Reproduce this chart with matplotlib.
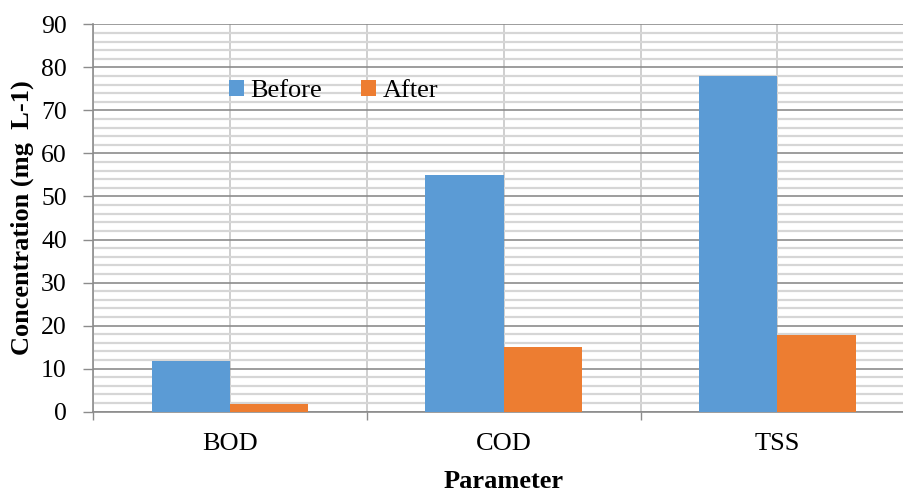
import numpy as np
import matplotlib
matplotlib.use("Agg")
import matplotlib.pyplot as plt
from matplotlib.ticker import MultipleLocator, FixedLocator

plt.rcParams['font.family'] = ['Liberation Serif', 'DejaVu Serif']

params = ['BOD', 'COD', 'TSS']
before = [11.7, 55, 78]
after = [1.9, 15, 17.8]

x = np.arange(len(params))
w = 0.286

fig = plt.figure(figsize=(9.04, 4.91), dpi=100)
ax = fig.add_axes([93.2/904, 79.3/491, 821/904, 387.4/491])

ax.bar(x - w/2, before, w, color='#5B9BD5', label='Before', zorder=3)
ax.bar(x + w/2, after, w, color='#ED7D31', label='After', zorder=3)

ax.set_xlim(-0.5, 2.5)
ax.set_ylim(0, 90)

# y grid: major every 10, minor every 2
ax.yaxis.set_major_locator(MultipleLocator(10))
ax.yaxis.set_minor_locator(MultipleLocator(2))
ax.grid(which='major', axis='y', color='#8c8c8c', lw=1.2, zorder=1)
ax.grid(which='minor', axis='y', color='#d6d6d6', lw=1.6, zorder=0)

# x: labels at centres, ticks at boundaries, grid at both
ax.set_xticks(x)
ax.set_xticklabels(params)
ax.xaxis.set_minor_locator(FixedLocator([-0.5, 0.5, 1.5, 2.5]))
ax.grid(which='both', axis='x', color='#cccccc', lw=1.3, zorder=0)

ax.tick_params(axis='x', which='major', length=0, pad=15, labelsize=19)
ax.tick_params(axis='x', which='minor', length=6, width=1, color='#8c8c8c')
ax.tick_params(axis='y', which='major', length=7, width=1, color='#8c8c8c', pad=12, labelsize=18.5)
ax.tick_params(axis='y', which='minor', length=0)

for s in ['top', 'right']:
    ax.spines[s].set_visible(False)
for s in ['left', 'bottom']:
    ax.spines[s].set_color('#8c8c8c')
    ax.spines[s].set_linewidth(1.2)

ax.set_xlabel('Parameter', fontsize=19, fontweight='bold', labelpad=11)
ax.set_ylabel('Concentration (mg  L-1)', fontsize=19, fontweight='bold', labelpad=5)

ax.legend(loc='center left', bbox_to_anchor=(0.1654, 0.828), ncol=2, frameon=False,
          fontsize=19, handlelength=0.55, handleheight=0.55, handletextpad=0.25,
          columnspacing=1.5, borderpad=0, borderaxespad=0)

fig.savefig('out.png', dpi=100)
